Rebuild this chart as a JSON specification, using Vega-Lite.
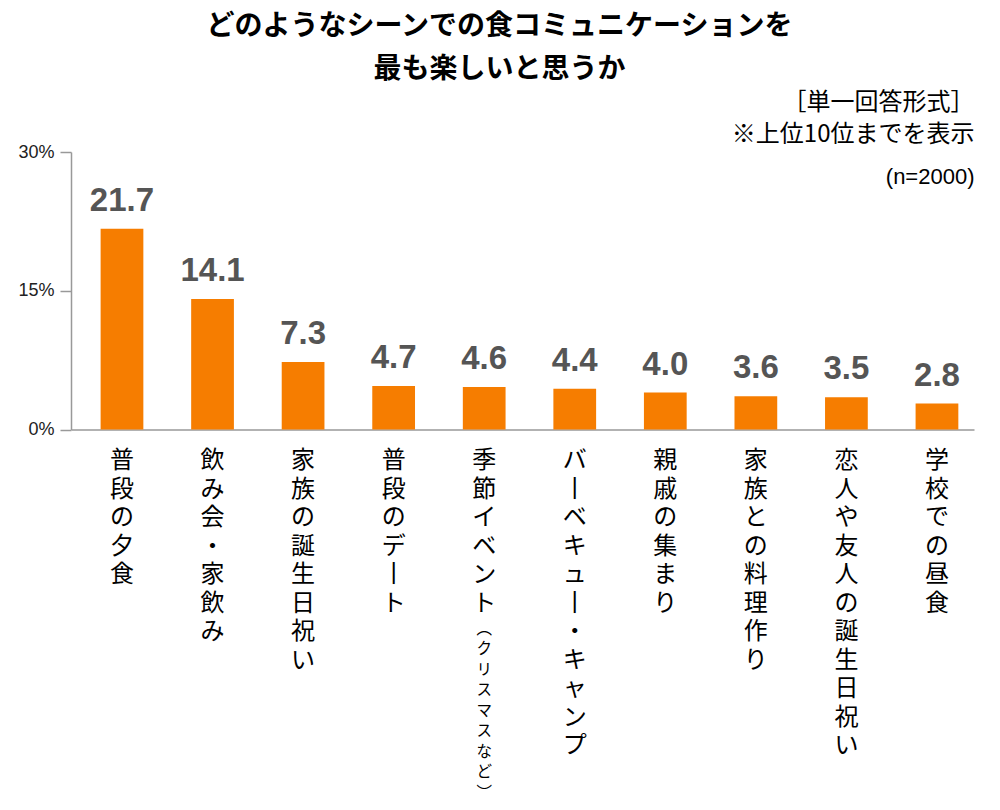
{
  "$schema": "https://vega.github.io/schema/vega-lite/v6.json",
  "width": 903,
  "height": 277.5,
  "autosize": {"type": "none"},
  "padding": {"left": 71, "top": 152, "right": 26, "bottom": 380.5},
  "background": "white",
  "title": {
    "text": ["どのようなシーンでの食コミュニケーションを", "最も楽しいと思うか"],
    "font": "Noto Sans CJK JP",
    "fontSize": 28,
    "fontWeight": "bold",
    "lineHeight": 43,
    "color": "#000000",
    "anchor": "middle",
    "dx": -23,
    "offset": 6.5
  },
  "data": {
    "values": [
      {"label": "普段の夕食", "value": 21.7, "note": null},
      {"label": "飲み会・家飲み", "value": 14.1, "note": null},
      {"label": "家族の誕生日祝い", "value": 7.3, "note": null},
      {"label": "普段のデート", "value": 4.7, "note": null},
      {"label": "季節イベント", "value": 4.6, "note": "（クリスマスなど）"},
      {"label": "バーベキュー・キャンプ", "value": 4.4, "note": null},
      {"label": "親戚の集まり", "value": 4.0, "note": null},
      {"label": "家族との料理作り", "value": 3.6, "note": null},
      {"label": "恋人や友人の誕生日祝い", "value": 3.5, "note": null},
      {"label": "学校での昼食", "value": 2.8, "note": null}
    ]
  },
  "encoding": {
    "x": {
      "field": "label",
      "type": "nominal",
      "sort": null,
      "scale": {"paddingInner": 0.528, "paddingOuter": 0.25, "align": 0.654},
      "axis": {
        "orient": "bottom",
        "title": null,
        "ticks": false,
        "domainColor": "#999999",
        "domainWidth": 1.5,
        "labelExpr": "split(replace(datum.value, regexp('ー', 'g'), '丨'), '')",
        "labelFont": "Noto Sans CJK JP",
        "labelFontSize": 24,
        "labelLineHeight": 28.5,
        "labelColor": "#000000",
        "labelAngle": 0,
        "labelAlign": "center",
        "labelBaseline": "top",
        "labelPadding": 19,
        "labelOverlap": false
      }
    },
    "y": {
      "field": "value",
      "type": "quantitative",
      "scale": {"domain": [0, 30], "nice": false},
      "axis": {
        "values": [0, 15, 30],
        "labelExpr": "datum.value + '%'",
        "labelFont": "Liberation Sans",
        "labelFontSize": 18,
        "labelColor": "#222222",
        "labelPadding": 6,
        "tickSize": 11,
        "tickColor": "#999999",
        "tickWidth": 1.5,
        "domainColor": "#999999",
        "domainWidth": 1.5,
        "grid": false,
        "title": "(n=2000)",
        "titleAngle": 0,
        "titleX": 903,
        "titleY": 24,
        "titleAlign": "right",
        "titleBaseline": "middle",
        "titleFont": "Liberation Sans",
        "titleFontSize": 22,
        "titleFontWeight": "normal",
        "titleColor": "#000000"
      }
    }
  },
  "layer": [
    {
      "mark": {"type": "bar", "color": "#F67D00"}
    },
    {
      "mark": {
        "type": "text",
        "baseline": "alphabetic",
        "align": "center",
        "dy": -18,
        "font": "Liberation Sans",
        "fontSize": 33,
        "fontWeight": "bold",
        "color": "#555555"
      },
      "encoding": {
        "x": {
          "field": "label",
          "type": "nominal",
          "sort": null,
          "axis": {
            "orient": "top",
            "labels": false,
            "ticks": false,
            "domain": false,
            "grid": false,
            "title": ["［単一回答形式］", "※上位10位までを表示"],
            "titleX": 903,
            "titleY": -50,
            "titleAlign": "right",
            "titleAnchor": "end",
            "titleBaseline": "middle",
            "titleFont": "Noto Sans CJK JP",
            "titleFontSize": 24,
            "titleFontWeight": "normal",
            "titleLineHeight": 32,
            "titleColor": "#000000"
          }
        },
        "text": {"field": "value", "type": "quantitative", "format": ".1f"}
      }
    },
    {
      "transform": [
        {"filter": "isValid(datum.note)"},
        {"calculate": "split(replace(replace(datum.note, '（', '︵'), '）', '︶'), '')", "as": "noteChars"}
      ],
      "mark": {
        "type": "text",
        "baseline": "top",
        "align": "center",
        "dy": 192,
        "font": "Noto Sans CJK JP",
        "fontSize": 15.5,
        "lineHeight": 20.5,
        "color": "#000000"
      },
      "encoding": {
        "x": {"field": "label", "type": "nominal", "sort": null, "axis": null},
        "y": {"datum": 0},
        "text": {"field": "noteChars", "type": "nominal"}
      }
    }
  ],
  "resolve": {"axis": {"x": "independent"}},
  "config": {"view": {"stroke": null}}
}
